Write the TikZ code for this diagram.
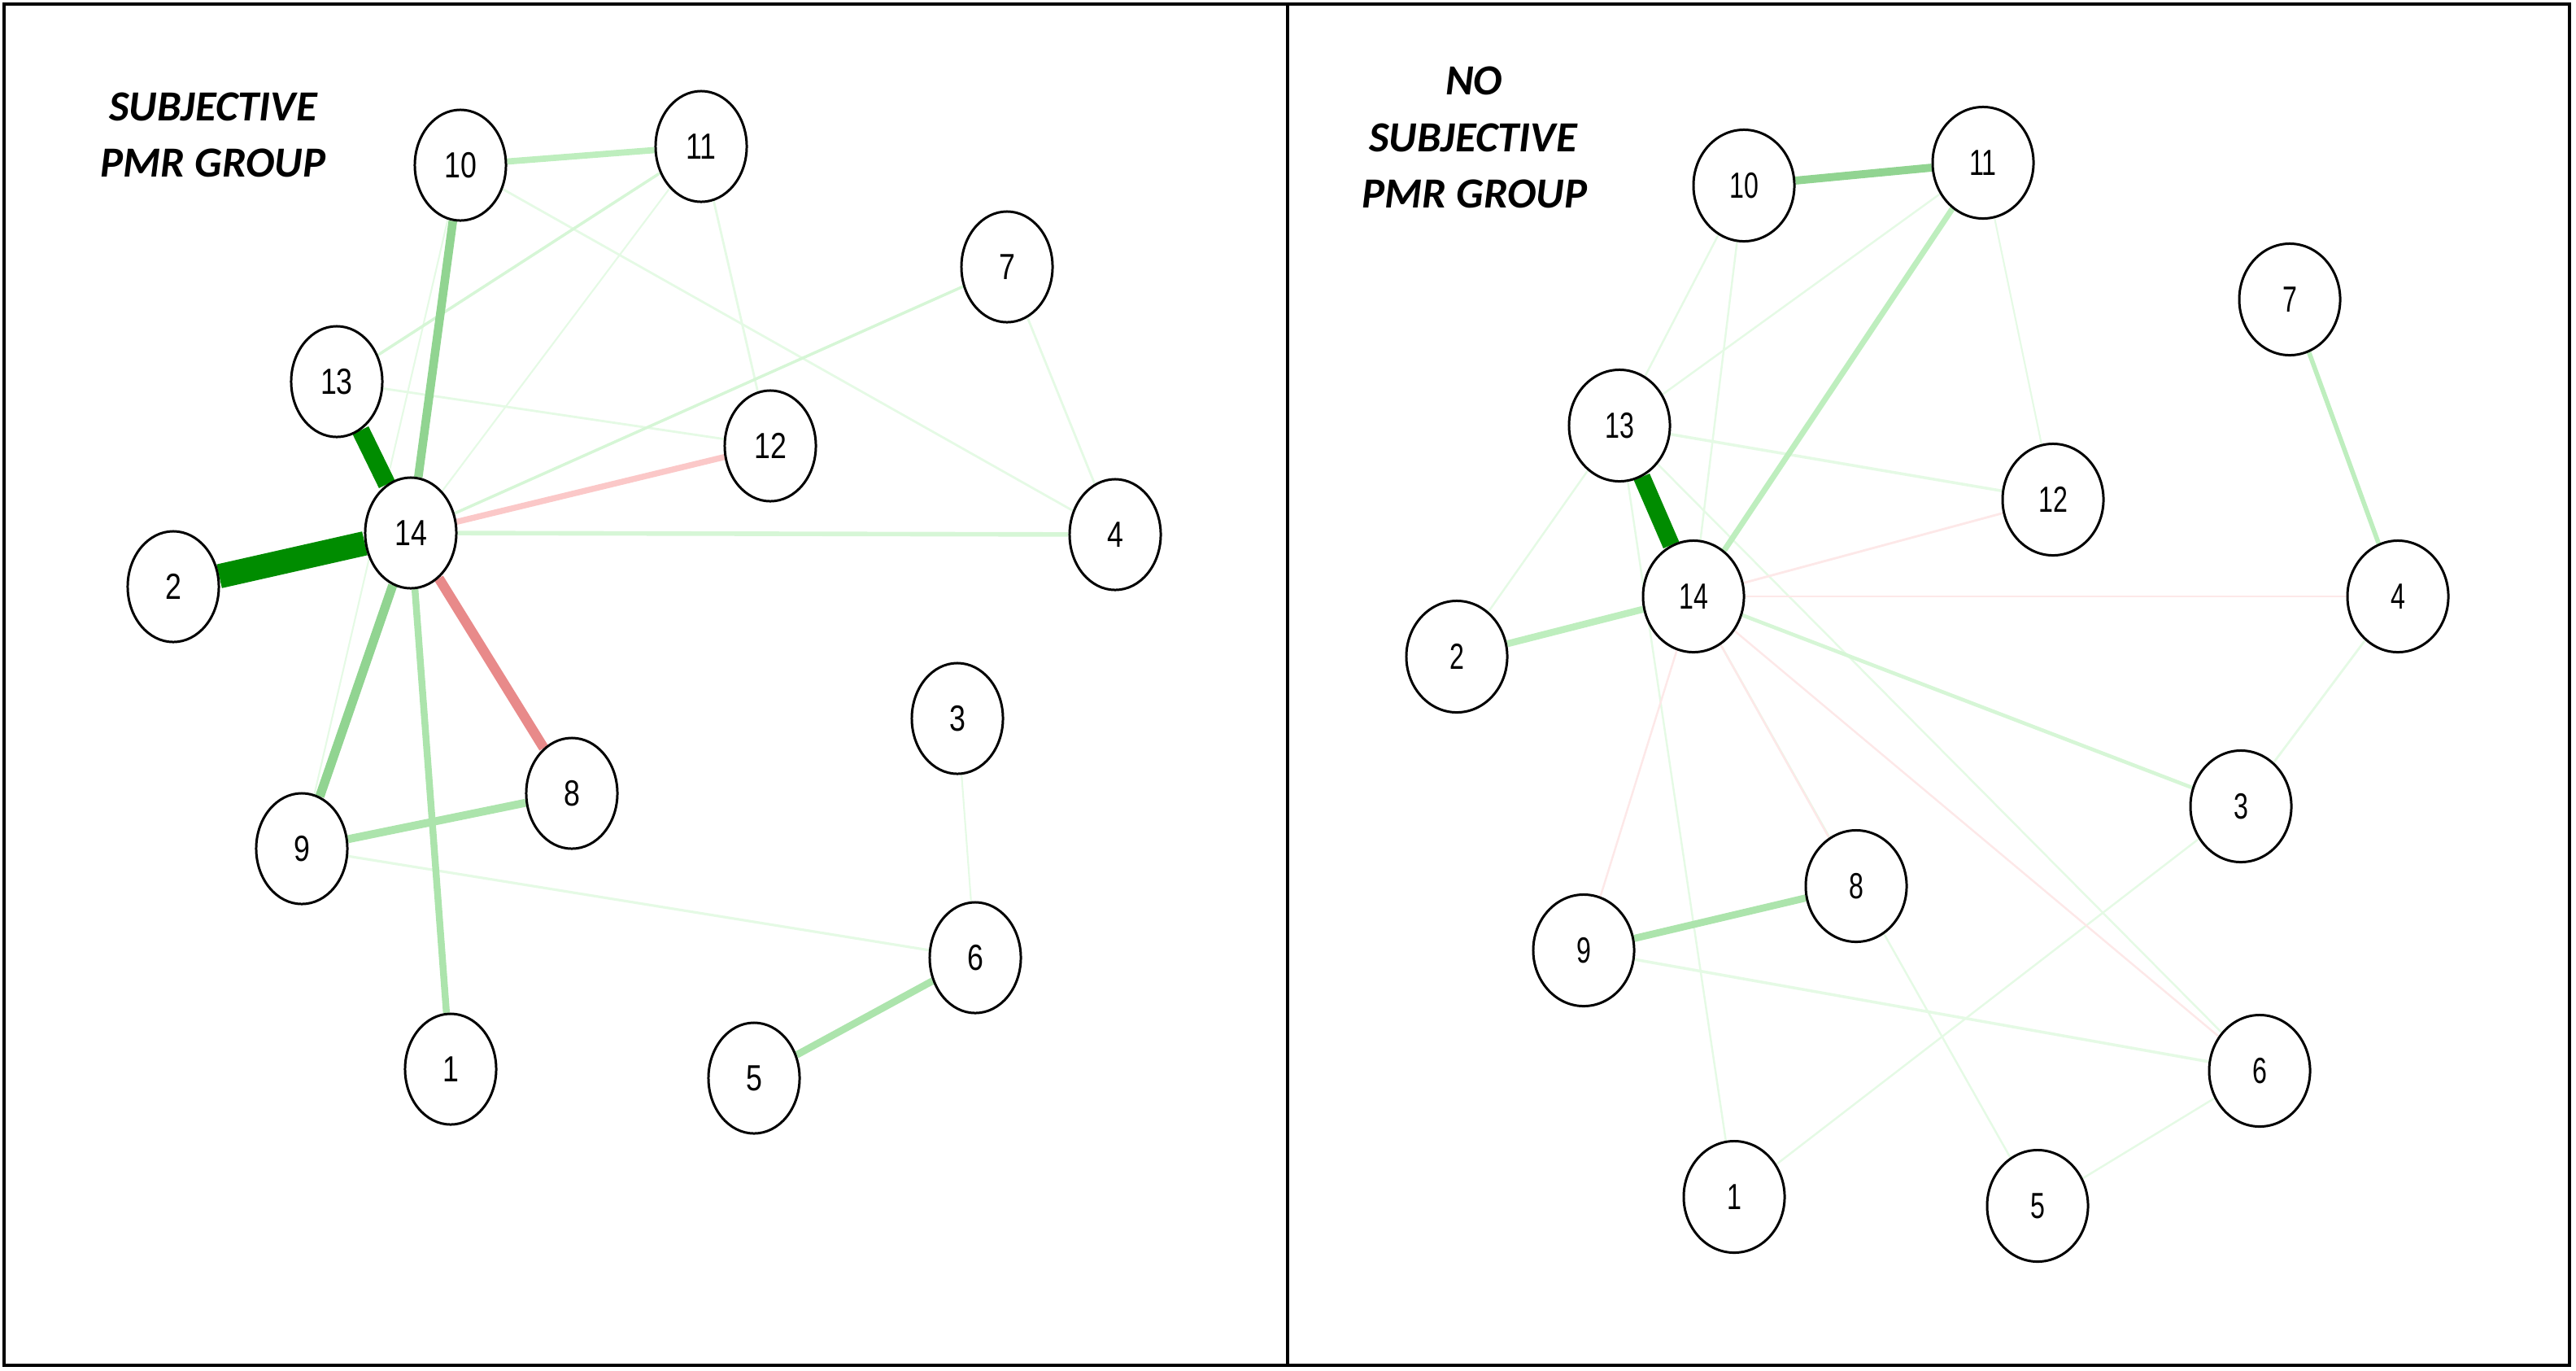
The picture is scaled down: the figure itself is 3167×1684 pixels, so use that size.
\documentclass[tikz,border=0pt]{standalone}
\usepackage{fontspec}
\usepackage{graphicx}
\setmainfont{Liberation Sans}
\newfontfamily\titlefont{Carlito}
\usetikzlibrary{shapes.geometric,backgrounds}
\definecolor{dg}{RGB}{0,140,0}
\definecolor{mg}{RGB}{145,212,145}
\definecolor{lg}{RGB}{172,228,172}
\definecolor{lg2}{RGB}{190,238,190}
\definecolor{vlg}{RGB}{214,246,214}
\definecolor{fg}{RGB}{229,250,229}
\definecolor{mr}{RGB}{232,138,138}
\definecolor{lr}{RGB}{251,200,200}
\definecolor{fr}{RGB}{253,232,232}
\newcommand\labL[1]{\scalebox{0.8}[1]{#1}}
\newcommand\labR[1]{\scalebox{0.72}[1]{#1}}
\tikzset{
  nodeL/.style={ellipse, draw=black, fill=white, line width=0.85pt, minimum width=1.12cm, minimum height=1.36cm, inner sep=0pt, font=\fontsize{12.7}{14}\selectfont},
  nodeR/.style={nodeL, minimum width=1.24cm, minimum height=1.37cm},
  ed/.style 2 args={draw=#1, line width=#2},
  ttl/.style={anchor=base, inner sep=0pt, font=\titlefont\fontsize{15}{18}\selectfont\bfseries\itshape},
  frame/.style={draw=black, line width=1pt}
}
\begin{document}
\begin{tikzpicture}[x=0.01cm, y=-0.01cm]
\useasboundingbox (0,0) rectangle (3167,1684);
\draw[frame] (5,5) rectangle (3159,1678);
\draw[frame] (1583,5) -- (1583,1678);

% ---------- left panel ----------
\node[ttl] (TL1) at (262,148) {SUBJECTIVE};
\node[ttl] (TL2) at (262,217) {PMR GROUP};

\node[nodeL] (L10) at (566,203) {\labL{10}};
\node[nodeL] (L11) at (862,180) {\labL{11}};
\node[nodeL] (L7)  at (1238,328) {\labL{7}};
\node[nodeL] (L13) at (414,469) {\labL{13}};
\node[nodeL] (L12) at (947,548) {\labL{12}};
\node[nodeL] (L14) at (505,655) {\labL{14}};
\node[nodeL] (L4)  at (1371,657) {\labL{4}};
\node[nodeL] (L2)  at (213,721) {\labL{2}};
\node[nodeL] (L3)  at (1177,883) {\labL{3}};
\node[nodeL] (L8)  at (703,975) {\labL{8}};
\node[nodeL] (L9)  at (371,1043) {\labL{9}};
\node[nodeL] (L6)  at (1199,1177) {\labL{6}};
\node[nodeL] (L1)  at (554,1314) {\labL{1}};
\node[nodeL] (L5)  at (927,1325) {\labL{5}};

\begin{pgfonlayer}{background}
\draw[ed={fg}{0.6pt}] (L10) -- (L9);
\draw[ed={fg}{0.6pt}] (L14) -- (L11);
\draw[ed={fg}{0.6pt}] (L3) -- (L6);
\draw[ed={fg}{0.8pt}] (L10) -- (L4);
\draw[ed={fg}{0.8pt}] (L11) -- (L12);
\draw[ed={fg}{0.8pt}] (L7) -- (L4);
\draw[ed={fg}{0.8pt}] (L13) -- (L12);
\draw[ed={fg}{0.9pt}] (L9) -- (L6);
\draw[ed={vlg}{1pt}] (L14) -- (L7);
\draw[ed={vlg}{1pt}] (L13) -- (L11);
\draw[ed={vlg}{1.6pt}] (L14) -- (L4);
\draw[ed={lr}{2.1pt}] (L14) -- (L12);
\draw[ed={lg2}{2.2pt}] (L10) -- (L11);
\draw[ed={lg}{2.5pt}] (L5) -- (L6);
\draw[ed={lg}{2.4pt}] (L14) -- (L1);
\draw[ed={lg}{2.8pt}] (L9) -- (L8);
\draw[ed={mg}{3pt}] (L10) -- (L14);
\draw[ed={mg}{3.2pt}] (L14) -- (L9);
\draw[ed={mr}{3.5pt}] (L14) -- (L8);
\draw[ed={dg}{6.2pt}] (L13) -- (L14);
\draw[ed={dg}{8.5pt}] (L2) -- (L14);
\end{pgfonlayer}

% ---------- right panel ----------
\node[ttl] (TR1) at (1812,116) {NO};
\node[ttl] (TR2) at (1811,186) {SUBJECTIVE};
\node[ttl] (TR3) at (1813,255) {PMR GROUP};

\node[nodeR] (R10) at (2144,228) {\labR{10}};
\node[nodeR] (R11) at (2438,200) {\labR{11}};
\node[nodeR] (R7)  at (2815,368) {\labR{7}};
\node[nodeR] (R13) at (1991,523) {\labR{13}};
\node[nodeR] (R12) at (2524,614) {\labR{12}};
\node[nodeR] (R14) at (2082,733) {\labR{14}};
\node[nodeR] (R4)  at (2948,733) {\labR{4}};
\node[nodeR] (R2)  at (1791,807) {\labR{2}};
\node[nodeR] (R3)  at (2755,991) {\labR{3}};
\node[nodeR] (R8)  at (2282,1089) {\labR{8}};
\node[nodeR] (R9)  at (1947,1168) {\labR{9}};
\node[nodeR] (R6)  at (2778,1316) {\labR{6}};
\node[nodeR] (R1)  at (2132,1471) {\labR{1}};
\node[nodeR] (R5)  at (2505,1482) {\labR{5}};

\begin{pgfonlayer}{background}
\draw[ed={fg}{0.6pt}] (R11) -- (R12);
\draw[ed={fg}{0.7pt}] (R2) -- (R13);
\draw[ed={fg}{0.7pt}] (R10) -- (R13);
\draw[ed={fg}{0.7pt}] (R10) -- (R14);
\draw[ed={fg}{0.7pt}] (R13) -- (R11);
\draw[ed={fg}{0.7pt}] (R1) -- (R13);
\draw[ed={fg}{0.7pt}] (R13) -- (R6);
\draw[ed={fg}{0.7pt}] (R14) -- (R5);
\draw[ed={fg}{0.7pt}] (R1) -- (R3);
\draw[ed={fg}{0.7pt}] (R5) -- (R6);
\draw[ed={fg}{0.8pt}] (R4) -- (R3);
\draw[ed={fr}{0.7pt}] (R14) -- (R8);
\draw[ed={fr}{0.7pt}] (R14) -- (R6);
\draw[ed={fr}{0.7pt}] (R14) -- (R9);
\draw[ed={fr}{0.8pt}] (R14) -- (R12);
\draw[ed={fr}{0.8pt}] (R14) -- (R4);
\draw[ed={fg}{1pt}] (R13) -- (R12);
\draw[ed={fg}{1pt}] (R9) -- (R6);
\draw[ed={vlg}{1.3pt}] (R14) -- (R3);
\draw[ed={lg2}{1.6pt}] (R7) -- (R4);
\draw[ed={lg2}{2pt}] (R14) -- (R11);
\draw[ed={lg2}{2.4pt}] (R2) -- (R14);
\draw[ed={lg}{2.5pt}] (R9) -- (R8);
\draw[ed={mg}{2.8pt}] (R10) -- (R11);
\draw[ed={dg}{6pt}] (R13) -- (R14);
\end{pgfonlayer}
\end{tikzpicture}
\end{document}
